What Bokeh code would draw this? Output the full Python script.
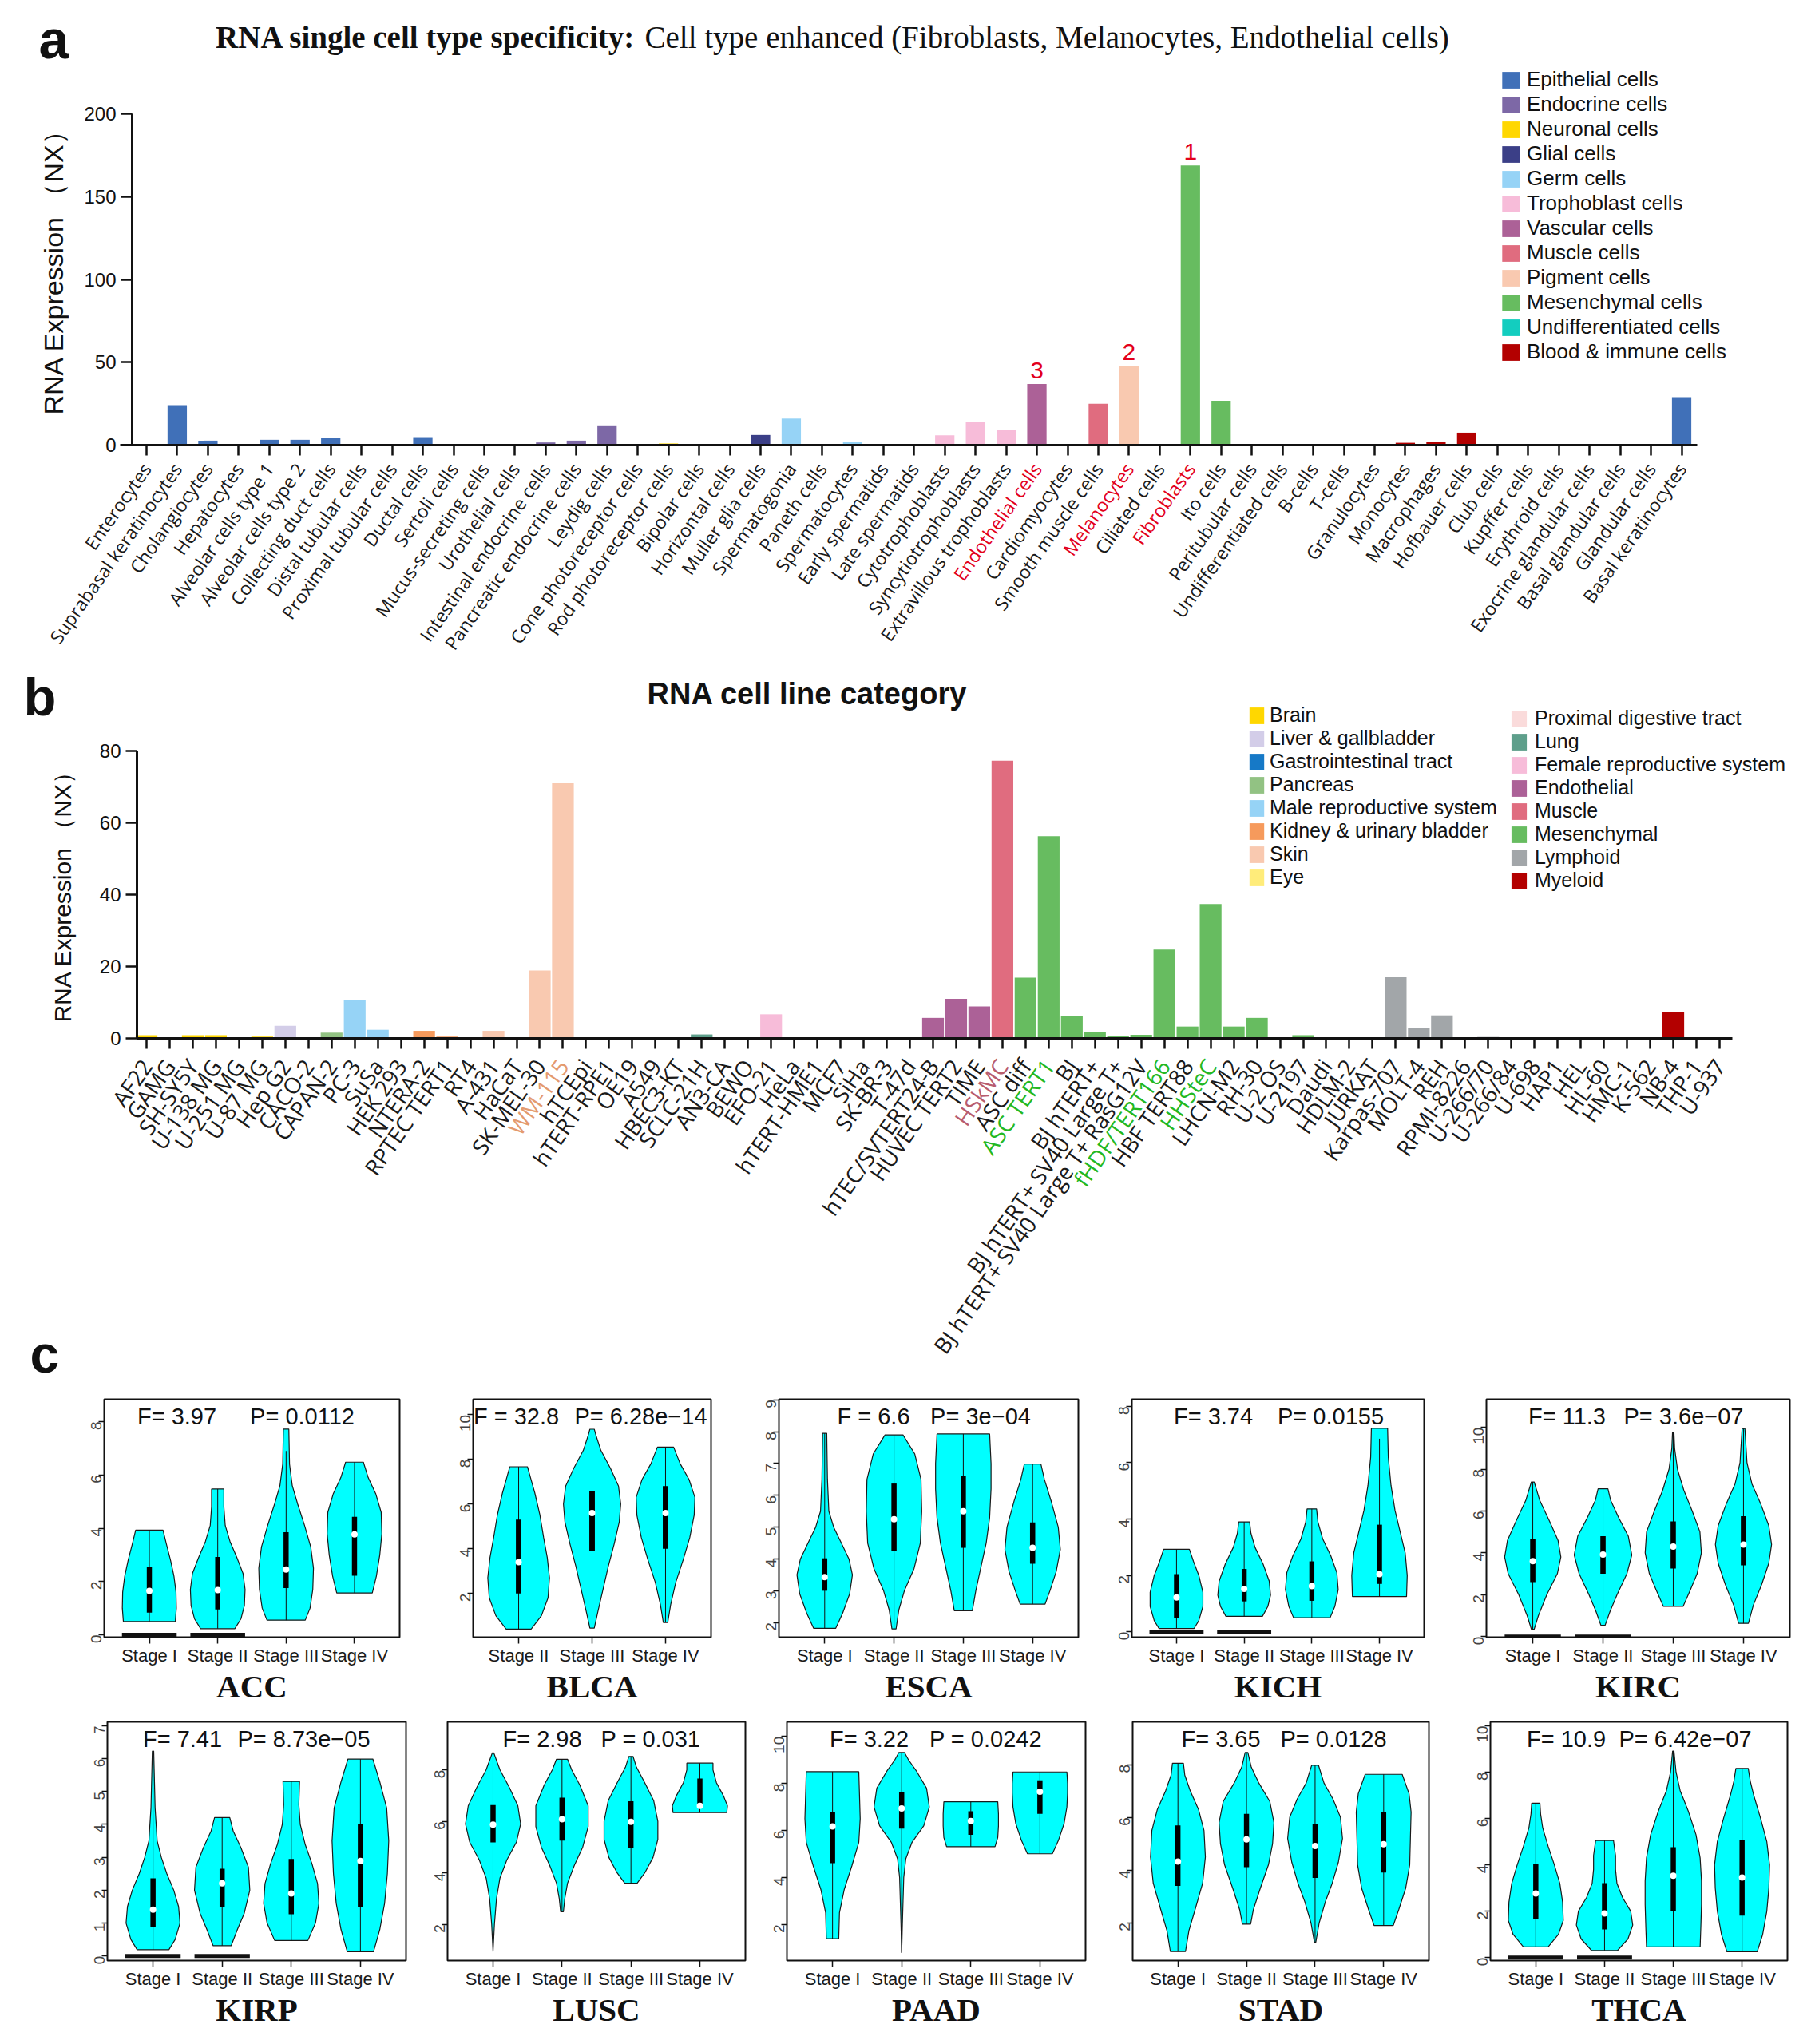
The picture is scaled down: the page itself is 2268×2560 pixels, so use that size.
import math
from bokeh.plotting import figure
from bokeh.models import (ColumnDataSource, Range1d, FixedTicker, LinearAxis,
                          Label, LabelSet, Legend, LegendItem)
from bokeh.layouts import column, row
from bokeh.core.properties import value
from bokeh.embed import file_html
from bokeh.resources import INLINE

# ---------------------------------------------------------------- panel a data
A_TITLE_BOLD = "RNA single cell type specificity:"
A_TITLE_REST = "Cell type enhanced (Fibroblasts, Melanocytes, Endothelial cells)"
A_YLABEL = "RNA Expression \uff08NX\uff09"
A_CELLS = [
    "Enterocytes", "Suprabasal keratinocytes", "Cholangiocytes", "Hepatocytes",
    "Alveolar cells type 1", "Alveolar cells type 2", "Collecting duct cells",
    "Distal tubular cells", "Proximal tubular cells", "Ductal cells", "Sertoli cells",
    "Mucus-secreting cells", "Urothelial cells", "Intestinal endocrine cells",
    "Pancreatic endocrine cells", "Leydig cells", "Cone photoreceptor cells",
    "Rod photoreceptor cells", "Bipolar cells", "Horizontal cells", "Muller glia cells",
    "Spermatogonia", "Paneth cells", "Spermatocytes", "Early spermatids",
    "Late spermatids", "Cytotrophoblasts", "Syncytiotrophoblasts",
    "Extravillous trophoblasts", "Endothelial cells", "Cardiomyocytes",
    "Smooth muscle cells", "Melanocytes", "Ciliated cells", "Fibroblasts", "Ito cells",
    "Peritubular cells", "Undifferentiated cells", "B-cells", "T-cells", "Granulocytes",
    "Monocytes", "Macrophages", "Hofbauer cells", "Club cells", "Kupffer cells",
    "Erythroid cells", "Exocrine glandular cells", "Basal glandular cells",
    "Glandular cells", "Basal keratinocytes",
]
A_VALUES = [0, 24.1, 2.7, 0, 3.2, 3.2, 4.1, 0, 0.3, 4.8, 0, 0, 0.5, 1.6, 2.7, 11.9,
            0, 1.0, 0.3, 0, 6.1, 16.0, 0, 2.0, 0, 0, 5.9, 13.9, 9.3, 36.9, 0.5, 25.0,
            47.6, 0, 168.8, 26.7, 0.3, 0, 0, 0, 0, 1.4, 2.1, 7.5, 0, 0.3, 0, 0.5, 0,
            0.5, 28.9]
A_GROUPS = (["Epithelial cells"] * 13 + ["Endocrine cells"] * 3 + ["Neuronal cells"] * 4 +
            ["Glial cells", "Germ cells", "Epithelial cells"] + ["Germ cells"] * 3 +
            ["Trophoblast cells"] * 3 + ["Vascular cells"] + ["Muscle cells"] * 2 +
            ["Pigment cells", "Epithelial cells"] + ["Mesenchymal cells"] * 3 +
            ["Undifferentiated cells"] + ["Blood & immune cells"] * 6 +
            ["Epithelial cells", "Blood & immune cells", "Blood & immune cells"] +
            ["Epithelial cells"] * 4)
A_GROUP_NAMES = ["Epithelial cells", "Endocrine cells", "Neuronal cells", "Glial cells",
                 "Germ cells", "Trophoblast cells", "Vascular cells", "Muscle cells",
                 "Pigment cells", "Mesenchymal cells", "Undifferentiated cells",
                 "Blood & immune cells"]
A_YTICKS = [0, 50, 100, 150, 200]
A_HIGHLIGHT = ["Endothelial cells", "Melanocytes", "Fibroblasts"]
A_PEAK_CELLS = ["Fibroblasts", "Melanocytes", "Endothelial cells"]
A_PEAK_TEXT = ["1", "2", "3"]

# ---------------------------------------------------------------- panel b data
B_TITLE = "RNA cell line category"
B_LINES = [
    "AF22", "GAMG", "SH-SY5Y", "U-138 MG", "U-251 MG", "U-87 MG", "Hep G2", "CACO-2",
    "CAPAN-2", "PC-3", "SuSa", "HEK 293", "NTERA-2", "RPTEC TERT1", "RT4", "A-431",
    "HaCaT", "SK-MEL-30", "WM-115", "hTCEpi", "hTERT-RPE1", "OE19", "A549", "HBEC3-KT",
    "SCLC-21H", "AN3-CA", "BEWO", "EFO-21", "HeLa", "hTERT-HME1", "MCF7", "SiHa",
    "SK-BR-3", "T-47d", "hTEC/SVTERT24-B", "HUVEC TERT2", "TIME", "HSkMC", "ASC diff",
    "ASC TERT1", "BJ", "BJ hTERT+", "BJ hTERT+ SV40 Large T+",
    "BJ hTERT+ SV40 Large T+ RasG12V", "fHDF/TERT166", "HBF TERT88", "HHSteC",
    "LHCN-M2", "RH-30", "U-2 OS", "U-2197", "Daudi", "HDLM-2", "JURKAT", "Karpas-707",
    "MOLT-4", "REH", "RPMI-8226", "U-266/70", "U-266/84", "U-698", "HAP1", "HEL",
    "HL-60", "HMC-1", "K-562", "NB-4", "THP-1", "U-937",
]
B_VALUES = [0.9, 0, 0.9, 0.9, 0, 0.5, 3.5, 0.3, 1.6, 10.6, 2.4, 0, 2.1, 0.5, 0, 2.1,
            0, 18.9, 71.0, 0, 0, 0, 0, 0, 1.1, 0, 0, 6.7, 0, 0, 0.2, 0, 0, 0, 5.7,
            11.0, 8.9, 77.3, 16.9, 56.3, 6.3, 1.7, 0.6, 1.0, 24.7, 3.3, 37.4, 3.3, 5.7,
            0, 0.9, 0, 0, 0.3, 17.0, 3.0, 6.4, 0, 0.4, 0, 0, 0, 0, 0, 0, 0, 7.4, 0, 0]
B_GROUPS = (["Brain"] * 6 + ["Liver & gallbladder", "Gastrointestinal tract", "Pancreas"] +
            ["Male reproductive system"] * 2 + ["Kidney & urinary bladder"] * 4 +
            ["Skin"] * 4 + ["Eye"] * 2 + ["Proximal digestive tract"] + ["Lung"] * 3 +
            ["Female reproductive system"] * 9 + ["Endothelial"] * 3 + ["Muscle"] +
            ["Mesenchymal"] * 13 + ["Lymphoid"] * 10 + ["Myeloid"] * 8)
B_LEGEND_LEFT = ["Brain", "Liver & gallbladder", "Gastrointestinal tract", "Pancreas",
                 "Male reproductive system", "Kidney & urinary bladder", "Skin", "Eye"]
B_LEGEND_RIGHT = ["Proximal digestive tract", "Lung", "Female reproductive system",
                  "Endothelial", "Muscle", "Mesenchymal", "Lymphoid", "Myeloid"]
B_YTICKS = [0, 20, 40, 60, 80]

# ---------------------------------------------------------------- panel c data
# each violin: outline knots (value, half-width), box (q1, median, q3), whisker (lo, hi)
STAGES4 = ["Stage I", "Stage II", "Stage III", "Stage IV"]
STAGES3 = ["Stage II", "Stage III", "Stage IV"]

ACC_STAT = ("F= 3.97", "P= 0.0112")
ACC_YLIM = (-0.09, 8.84)
ACC_YTICKS = [0, 2, 4, 6, 8]
ACC_KNOTS = [
    [(0.50, .38), (1.0, .395), (1.6, .39), (2.2, .36), (2.8, .31), (3.4, .25), (3.93, .20)],
    [(0.23, .25), (0.6, .34), (1.1, .39), (1.7, .40), (2.3, .37), (2.9, .28), (3.5, .18), (4.1, .11), (4.8, .09), (5.47, .09)],
    [(0.55, .28), (1.0, .35), (1.7, .39), (2.5, .40), (3.3, .36), (4.1, .27), (4.9, .17), (5.6, .09), (6.4, .05), (7.72, .04)],
    [(1.57, .26), (2.2, .32), (3.0, .37), (3.8, .40), (4.6, .39), (5.3, .31), (5.9, .20), (6.48, .13)],
]
ACC_BOX = [(0.83, 1.65, 2.55), (0.95, 1.68, 2.92), (1.75, 2.45, 3.85), (2.22, 3.77, 4.43)]
ACC_WHISKER = [(0.50, 3.93), (0.23, 5.47), (0.55, 6.90), (1.57, 6.48)]
ACC_ZERO = [True, True, False, False]

BLCA_STAT = ("F = 32.8", "P= 6.28e\u221214")
BLCA_YLIM = (0.04, 10.69)
BLCA_YTICKS = [2, 4, 6, 8, 10]
BLCA_KNOTS = [
    [(0.40, .17), (1.0, .31), (1.8, .40), (2.7, .42), (3.6, .39), (4.5, .34), (5.5, .29), (6.5, .22), (7.2, .16), (7.67, .12)],
    [(0.45, .03), (1.2, .08), (2.2, .15), (3.2, .22), (4.2, .30), (5.2, .37), (6.0, .39), (6.8, .36), (7.6, .25), (8.4, .12), (9.0, .06), (9.35, .03)],
    [(0.70, .03), (1.5, .07), (2.5, .14), (3.5, .24), (4.5, .33), (5.5, .39), (6.3, .40), (7.1, .32), (7.8, .20), (8.55, .11)],
]
BLCA_BOX = [(2.0, 3.4, 5.3), (3.9, 5.6, 6.6), (4.0, 5.6, 6.8)]
BLCA_WHISKER = [(0.40, 7.67), (0.45, 9.35), (0.70, 8.55)]
BLCA_ZERO = [False, False, False]

ESCA_STAT = ("F = 6.6", "P= 3e\u221204")
ESCA_YLIM = (1.54, 9.02)
ESCA_YTICKS = [2, 3, 4, 5, 6, 7, 8, 9]
ESCA_KNOTS = [
    [(1.82, .16), (2.3, .26), (2.9, .36), (3.5, .40), (4.0, .35), (4.5, .24), (5.0, .13), (5.5, .06), (6.5, .04), (7.95, .03)],
    [(1.80, .03), (2.4, .07), (3.0, .15), (3.7, .29), (4.5, .38), (5.5, .40), (6.5, .39), (7.3, .30), (7.9, .13)],
    [(2.37, .13), (3.0, .18), (3.7, .25), (4.5, .33), (5.3, .38), (6.2, .40), (7.0, .40), (7.93, .38)],
    [(2.58, .18), (3.0, .25), (3.6, .34), (4.3, .40), (5.0, .37), (5.8, .27), (6.5, .17), (6.98, .12)],
]
ESCA_BOX = [(3.0, 3.43, 4.02), (4.25, 5.25, 6.37), (4.35, 5.5, 6.6), (3.85, 4.35, 5.15)]
ESCA_WHISKER = [(1.82, 7.95), (1.80, 7.9), (2.37, 7.93), (2.58, 6.98)]
ESCA_ZERO = [False, False, False, False]

KICH_STAT = ("F= 3.74", "P= 0.0155")
KICH_YLIM = (-0.19, 8.25)
KICH_YTICKS = [0, 2, 4, 6, 8]
KICH_KNOTS = [
    [(0.12, .26), (0.4, .33), (0.9, .39), (1.4, .39), (2.0, .33), (2.5, .25), (2.93, .19)],
    [(0.55, .27), (0.9, .35), (1.3, .39), (1.8, .37), (2.4, .28), (3.0, .16), (3.5, .10), (3.9, .08)],
    [(0.50, .27), (0.9, .34), (1.5, .39), (2.1, .37), (2.7, .28), (3.3, .16), (3.9, .09), (4.36, .07)],
    [(1.25, .40), (2.0, .41), (2.8, .38), (3.5, .31), (4.3, .23), (5.2, .17), (6.2, .13), (7.22, .12)],
]
KICH_BOX = [(0.5, 1.22, 2.05), (1.08, 1.52, 2.23), (1.1, 1.62, 2.5), (1.7, 2.05, 3.8)]
KICH_WHISKER = [(0.12, 2.93), (0.55, 3.9), (0.50, 4.36), (1.25, 6.85)]
KICH_ZERO = [True, True, False, False]

KIRC_STAT = ("F= 11.3", "P= 3.6e\u221207")
KIRC_YLIM = (-0.03, 11.34)
KIRC_YTICKS = [0, 2, 4, 6, 8, 10]
KIRC_KNOTS = [
    [(0.35, .02), (1.0, .08), (2.0, .20), (3.0, .35), (3.8, .40), (4.6, .36), (5.5, .24), (6.5, .10), (7.39, .02)],
    [(0.54, .03), (1.2, .10), (2.0, .20), (3.0, .34), (3.9, .41), (4.8, .36), (5.7, .22), (6.5, .11), (7.06, .07)],
    [(1.44, .14), (2.2, .24), (3.0, .34), (4.0, .40), (5.0, .38), (6.0, .27), (7.0, .15), (8.0, .06), (9.0, .02), (9.77, .01)],
    [(0.63, .07), (1.5, .14), (2.5, .26), (3.5, .36), (4.4, .40), (5.3, .36), (6.3, .25), (7.3, .12), (8.3, .05), (9.94, .02)],
]
KIRC_BOX = [(2.6, 3.6, 4.65), (3.0, 3.92, 4.8), (3.25, 4.3, 5.5), (3.4, 4.4, 5.75)]
KIRC_WHISKER = [(0.35, 7.39), (0.54, 7.06), (1.44, 9.77), (0.63, 9.94)]
KIRC_ZERO = [True, True, False, False]

KIRP_STAT = ("F= 7.41", "P= 8.73e\u221205")
KIRP_YLIM = (-0.14, 7.12)
KIRP_YTICKS = [0, 1, 2, 3, 4, 5, 6, 7]
KIRP_KNOTS = [
    [(0.19, .23), (0.5, .32), (1.0, .39), (1.5, .37), (2.0, .30), (2.5, .20), (3.0, .12), (3.5, .06), (4.5, .03), (6.23, .01)],
    [(0.31, .13), (0.8, .22), (1.3, .32), (2.0, .40), (2.7, .38), (3.3, .27), (3.8, .16), (4.21, .11)],
    [(0.47, .24), (1.0, .35), (1.6, .40), (2.2, .38), (2.8, .30), (3.4, .20), (4.0, .13), (4.6, .11), (5.31, .12)],
    [(0.13, .19), (0.8, .28), (1.6, .35), (2.5, .39), (3.5, .41), (4.5, .38), (5.3, .28), (5.99, .18)],
]
KIRP_BOX = [(0.87, 1.41, 2.36), (1.5, 2.21, 2.65), (1.27, 1.9, 2.95), (1.5, 2.89, 4.0)]
KIRP_WHISKER = [(0.19, 6.23), (0.31, 4.21), (0.47, 5.31), (0.13, 5.99)]
KIRP_ZERO = [True, True, False, False]

LUSC_STAT = ("F= 2.98", "P = 0.031")
LUSC_YLIM = (0.60, 9.86)
LUSC_YTICKS = [2, 4, 6, 8]
LUSC_KNOTS = [
    [(0.95, .00), (2.0, .02), (3.0, .05), (3.8, .10), (4.5, .20), (5.2, .34), (5.9, .40), (6.6, .36), (7.3, .24), (8.0, .10), (8.66, .01)],
    [(2.49, .02), (3.0, .04), (3.6, .08), (4.3, .18), (5.0, .30), (5.8, .38), (6.6, .38), (7.4, .26), (8.0, .14), (8.41, .08)],
    [(3.60, .09), (4.0, .20), (4.6, .32), (5.3, .39), (6.0, .39), (6.8, .33), (7.5, .20), (8.1, .08), (8.52, .03)],
    [(6.34, .39), (6.6, .40), (7.0, .34), (7.5, .24), (8.0, .19), (8.26, .19)],
]
LUSC_BOX = [(5.18, 5.87, 6.63), (5.25, 6.08, 6.92), (4.97, 5.98, 6.78), (6.58, 6.6, 7.66)]
LUSC_WHISKER = [(0.95, 8.66), (2.49, 8.41), (3.60, 8.52), (6.34, 8.26)]
LUSC_ZERO = [False, False, False, False]

PAAD_STAT = ("F= 3.22", "P = 0.0242")
PAAD_YLIM = (0.47, 10.62)
PAAD_YTICKS = [2, 4, 6, 8, 10]
PAAD_KNOTS = [
    [(1.40, .09), (2.5, .10), (3.5, .17), (4.5, .28), (5.5, .38), (6.5, .40), (7.5, .39), (8.5, .38)],
    [(0.80, .00), (2.0, .01), (3.0, .02), (4.0, .03), (4.8, .06), (5.5, .15), (6.2, .32), (7.0, .40), (7.8, .36), (8.5, .22), (9.0, .10), (9.32, .04)],
    [(5.31, .35), (5.7, .39), (6.2, .40), (6.7, .40), (7.22, .39)],
    [(5.01, .18), (5.6, .27), (6.3, .35), (7.0, .39), (7.6, .40), (8.0, .40), (8.49, .39)],
]
PAAD_BOX = [(4.61, 6.17, 6.8), (6.08, 6.94, 7.65), (5.82, 6.4, 6.82), (6.71, 7.65, 8.13)]
PAAD_WHISKER = [(1.40, 8.5), (0.80, 9.32), (5.31, 7.22), (5.01, 8.49)]
PAAD_ZERO = [False, False, False, False]

STAD_STAT = ("F= 3.65", "P= 0.0128")
STAD_YLIM = (0.57, 9.62)
STAD_YTICKS = [2, 4, 6, 8]
STAD_KNOTS = [
    [(0.91, .11), (1.7, .16), (2.5, .25), (3.5, .36), (4.5, .40), (5.5, .38), (6.3, .30), (7.0, .18), (7.6, .10), (8.05, .08)],
    [(1.95, .06), (2.5, .10), (3.3, .20), (4.2, .32), (5.0, .38), (5.8, .40), (6.6, .34), (7.3, .18), (7.9, .07), (8.46, .02)],
    [(1.26, .01), (2.0, .06), (2.8, .15), (3.5, .25), (4.3, .34), (5.2, .40), (6.0, .37), (6.7, .26), (7.3, .13), (7.97, .05)],
    [(1.90, .14), (2.5, .22), (3.3, .32), (4.2, .38), (5.2, .39), (6.2, .40), (6.9, .37), (7.63, .27)],
]
STAD_BOX = [(3.4, 4.32, 5.69), (4.11, 5.16, 6.13), (3.7, 4.91, 5.76), (3.91, 4.98, 6.21)]
STAD_WHISKER = [(0.91, 8.05), (1.95, 8.46), (1.26, 7.97), (1.90, 7.63)]
STAD_ZERO = [False, False, False, False]

THCA_STAT = ("F= 10.9", "P= 6.42e\u221207")
THCA_YLIM = (-0.13, 10.17)
THCA_YTICKS = [0, 2, 4, 6, 8, 10]
THCA_KNOTS = [
    [(0.46, .18), (1.0, .33), (1.6, .40), (2.4, .39), (3.2, .35), (4.0, .27), (4.8, .18), (5.6, .10), (6.2, .07), (6.66, .06)],
    [(0.31, .19), (0.8, .34), (1.4, .41), (2.0, .38), (2.6, .26), (3.2, .18), (3.8, .16), (4.4, .16), (5.05, .13)],
    [(0.46, .39), (1.3, .40), (2.3, .41), (3.3, .41), (4.3, .39), (5.3, .33), (6.3, .22), (7.2, .10), (8.0, .04), (8.91, .01)],
    [(0.25, .22), (1.0, .30), (2.0, .36), (3.0, .39), (4.0, .40), (5.0, .36), (6.0, .27), (7.0, .17), (7.6, .12), (8.16, .09)],
]
THCA_BOX = [(1.66, 2.76, 4.03), (1.21, 1.9, 3.21), (2.0, 3.53, 4.76), (1.81, 3.45, 5.09)]
THCA_WHISKER = [(0.46, 6.66), (0.31, 5.05), (0.46, 8.91), (0.25, 8.16)]
THCA_ZERO = [True, True, False, False]

# ---------------------------------------------------------------- styles
SANS = "Liberation Sans"
SERIF = "Liberation Serif"
TICKFONT = "Open Sans"
RED = "#E3001B"
INK = "#111111"
A_COLORS = {
    "Epithelial cells": "#4070B8", "Endocrine cells": "#7D68A6", "Neuronal cells": "#FFD700",
    "Glial cells": "#3B3F87", "Germ cells": "#96D3F6", "Trophoblast cells": "#F7BCD9",
    "Vascular cells": "#AC6197", "Muscle cells": "#E06C7F", "Pigment cells": "#F9C9B0",
    "Mesenchymal cells": "#67BC60", "Undifferentiated cells": "#13CDBF",
    "Blood & immune cells": "#B30000",
}
B_COLORS = {
    "Brain": "#FFD700", "Liver & gallbladder": "#D3CDE8", "Gastrointestinal tract": "#1679C7",
    "Pancreas": "#92C283", "Male reproductive system": "#96D3F6",
    "Kidney & urinary bladder": "#F69A5C", "Skin": "#F9C9B0", "Eye": "#FFEC7A",
    "Proximal digestive tract": "#FADBDB", "Lung": "#5E9F8B",
    "Female reproductive system": "#F7BCD9", "Endothelial": "#AC6197", "Muscle": "#E06C7F",
    "Mesenchymal": "#67BC60", "Lymphoid": "#A2A6A9", "Myeloid": "#B30000",
}
B_LABEL_COLORS = {"WM-115": "#E49A6E", "HSkMC": "#B85C6E", "ASC TERT1": "#22B822",
                  "fHDF/TERT166": "#22B822", "HHSteC": "#22B822"}
ANGLE = 55 * math.pi / 180
PAGE_W = 2268
# half-height offsets (ascent - descent) / 2 used for 'middle' anchored text
MID_SANS = 0.3465
MID_SERIF = 0.3375


class Geo:
    """Maps page pixels to a bar panel's data space (the frame fills the figure)."""

    def __init__(self, top, height, x0, unit, y0, ypx):
        self.top, self.height, self.x0, self.unit, self.y0, self.ypx = top, height, x0, unit, y0, ypx

    def x(self, px):
        return (px - self.x0) / self.unit

    def y(self, py):
        return (self.y0 - py) / self.ypx

    def xr(self):
        return Range1d(self.x(0), self.x(PAGE_W))

    def yr(self):
        return Range1d(self.y(self.top + self.height), self.y(self.top))


def bar_figure(g):
    p = figure(width=PAGE_W, height=g.height, x_range=g.xr(), y_range=g.yr(),
               output_backend="svg", toolbar_location=None,
               x_axis_location=None, y_axis_location=None,
               min_border=0, min_border_left=0, min_border_right=0,
               min_border_top=0, min_border_bottom=0)
    p.outline_line_color = None
    p.grid.visible = False
    return p


def add_bar_axes(p, g, n, yticks, ymax, yaxis_px, xaxis_px):
    yax = LinearAxis(fixed_location=g.x(yaxis_px), bounds=(0, ymax),
                     ticker=FixedTicker(ticks=yticks))
    xax = LinearAxis(fixed_location=0, bounds=(g.x(xaxis_px[0]), g.x(xaxis_px[1])),
                     ticker=FixedTicker(ticks=list(range(n))),
                     major_label_overrides={i: "" for i in range(n)})
    for ax in (xax, yax):
        ax.axis_line_width = 3
        ax.axis_line_color = INK
        ax.major_tick_line_width = 2.5
        ax.major_tick_line_color = INK
        ax.major_tick_in = 0
        ax.minor_tick_line_color = None
    yax.major_tick_out = 14
    xax.major_tick_out = 13
    yax.major_label_text_font = SANS
    yax.major_label_text_font_size = "24px"
    yax.major_label_text_color = INK
    yax.major_label_standoff = 6
    p.add_layout(yax, "left")
    p.add_layout(xax, "below")


def text_label(p, g, px, baseline_py, text, font, size, bold=False, align="left"):
    mid = MID_SERIF if font == SERIF else MID_SANS
    p.add_layout(Label(x=g.x(px), y=g.y(baseline_py - mid * size), text=text, text_font=font,
                       text_font_size="%dpx" % size,
                       text_font_style="bold" if bold else "normal", text_align=align,
                       text_baseline="middle", text_color=INK))


def y_title(p, g, cx, cy, text, size):
    p.add_layout(Label(x=g.x(cx), y=g.y(cy), text=text, text_font=SANS,
                       text_font_size="%dpx" % size, angle=math.pi / 2,
                       text_align="center", text_baseline="middle", text_color=INK))


def build_panel_a():
    # page y 0..830; category 0 at page x 183 (38.45 px apart); y=0 at page y 557, 200 at 142
    g = Geo(top=0, height=830, x0=183, unit=38.45, y0=557, ypx=415 / 200)
    p = bar_figure(g)
    n = len(A_CELLS)
    add_bar_axes(p, g, n, A_YTICKS, 200, 165, (150, 2125))
    y_title(p, g, 66, 332, A_YLABEL, 34)
    items = []
    for grp in A_GROUP_NAMES:
        idx = [i for i, gg in enumerate(A_GROUPS) if gg == grp]
        src = ColumnDataSource(dict(x=idx, top=[A_VALUES[i] for i in idx]))
        r = p.vbar(x="x", top="top", width=0.63, source=src, fill_color=A_COLORS[grp],
                   line_color=None)
        items.append(LegendItem(label=grp, renderers=[r]))
    p.add_layout(Legend(items=items, location=(1878, 830 - 456), glyph_width=28, glyph_height=26,
                        label_height=26, label_standoff=6, spacing=0, padding=0, margin=0,
                        border_line_color=None, background_fill_alpha=0,
                        label_text_font=SANS, label_text_font_size="26px",
                        label_text_color=INK))
    pk_x = [A_CELLS.index(c) for c in A_PEAK_CELLS]
    pk_y = [A_VALUES[i] + (7 + MID_SANS * 30) / g.ypx for i in pk_x]
    p.text(x=pk_x, y=pk_y, text=A_PEAK_TEXT, text_color=RED, text_font=value(SANS),
           text_font_size="30px", text_align="center", text_baseline="middle")
    lab = ColumnDataSource(dict(x=list(range(n)), y=[-25 / g.ypx] * n, text=A_CELLS,
                                color=[RED if c in A_HIGHLIGHT else "#1a1a1a" for c in A_CELLS]))
    p.add_layout(LabelSet(x="x", y="y", text="text", source=lab, angle=ANGLE,
                          text_align="right", text_baseline="middle", text_color="color",
                          text_font=value(TICKFONT), text_font_size="23px"))
    text_label(p, g, 48, 72, "a", SANS, 68, bold=True)
    text_label(p, g, 796, 59, A_TITLE_BOLD, SERIF, 39, bold=True, align="right")
    text_label(p, g, 807, 59, A_TITLE_REST, SERIF, 39)
    return p


def build_panel_b():
    # page y 830..1735; category 0 at page x 183 (28.97 px apart); y=0 at page y 1300, 80 at 940
    g = Geo(top=830, height=905, x0=183, unit=28.97, y0=1300, ypx=360 / 80)
    p = bar_figure(g)
    n = len(B_LINES)
    add_bar_axes(p, g, n, B_YTICKS, 80, 171, (171, 2169))
    y_title(p, g, 78, 1115, A_YLABEL, 30)
    rend = {}
    for grp in B_COLORS:
        idx = [i for i, gg in enumerate(B_GROUPS) if gg == grp]
        src = ColumnDataSource(dict(x=idx, top=[B_VALUES[i] for i in idx]))
        rend[grp] = p.vbar(x="x", top="top", width=0.94, source=src, fill_color=B_COLORS[grp],
                           line_color=None)
    bottom = 830 + 905
    for names, loc, gw, so in ((B_LEGEND_LEFT, (1562, bottom - 1113), 23, 5),
                               (B_LEGEND_RIGHT, (1890, bottom - 1117), 24, 8)):
        p.add_layout(Legend(items=[LegendItem(label=nm, renderers=[rend[nm]]) for nm in names],
                            location=loc, glyph_width=gw, glyph_height=26, label_height=26,
                            label_standoff=so, spacing=0, padding=0, margin=0,
                            border_line_color=None, background_fill_alpha=0,
                            label_text_font=SANS, label_text_font_size="25px",
                            label_text_color=INK))
    lab = ColumnDataSource(dict(x=list(range(n)), y=[-29 / g.ypx] * n, text=B_LINES,
                                color=[B_LABEL_COLORS.get(c, "#1a1a1a") for c in B_LINES]))
    p.add_layout(LabelSet(x="x", y="y", text="text", source=lab, angle=ANGLE,
                          text_align="right", text_baseline="middle", text_color="color",
                          text_font=value(TICKFONT), text_font_size="28px"))
    text_label(p, g, 29, 895, "b", SANS, 67, bold=True)
    text_label(p, g, 810, 882, B_TITLE, SANS, 38, bold=True)
    text_label(p, g, 37, 1718, "c", SANS, 66, bold=True)
    return p


def build_violin(name, stages, knots, boxes, whiskers, zeros, stat, ylim, yticks,
                 w, h, bl, br, bt, bb, stat_dx):
    n = len(stages)
    xr = Range1d(0.5 - 0.04 * n, n + 0.5 + 0.04 * n)
    p = figure(width=w, height=h, x_range=xr, y_range=Range1d(*ylim),
               output_backend="svg", toolbar_location=None,
               min_border_left=bl, min_border_right=br, min_border_top=bt, min_border_bottom=bb)
    p.grid.visible = False
    p.outline_line_color = INK
    p.outline_line_width = 2
    p.xaxis.ticker = FixedTicker(ticks=list(range(1, n + 1)))
    p.xaxis.major_label_overrides = {i + 1: s for i, s in enumerate(stages)}
    p.yaxis.ticker = FixedTicker(ticks=yticks)
    for ax in (p.xaxis[0], p.yaxis[0]):
        ax.axis_line_color = None
        ax.minor_tick_line_color = None
        ax.major_tick_in = 0
        ax.major_tick_line_color = INK
        ax.major_tick_line_width = 1.5
    p.xaxis.major_tick_out = 8
    p.yaxis.major_tick_out = 7
    p.xaxis.major_label_text_font = SANS
    p.xaxis.major_label_text_font_size = "22px"
    p.xaxis.major_label_text_color = "#1a1a1a"
    p.xaxis.major_label_standoff = 2
    p.yaxis.major_label_orientation = math.pi / 2
    p.yaxis.major_label_text_font = SANS
    p.yaxis.major_label_text_font_size = "19px"
    p.yaxis.major_label_text_color = "#444444"
    p.yaxis.major_label_standoff = 3
    p.xaxis.axis_label = name
    p.xaxis.axis_label_text_font = SERIF
    p.xaxis.axis_label_text_font_size = "41px"
    p.xaxis.axis_label_text_font_style = "bold"
    p.xaxis.axis_label_text_color = INK
    p.xaxis.axis_label_standoff = 0
    for i in range(n):
        c = i + 1
        kn = knots[i]
        xs = [c + hw for _, hw in kn] + [c - hw for _, hw in reversed(kn)]
        ys = [y for y, _ in kn] + [y for y, _ in reversed(kn)]
        p.patch(xs, ys, fill_color="#00FFFF", line_color="#1a1a1a", line_width=1.2)
        lo, hi = whiskers[i]
        p.segment(x0=[c], y0=[lo], x1=[c], y1=[hi], line_color=INK, line_width=1)
        q1, med, q3 = boxes[i]
        p.vbar(x=[c], bottom=[q1], top=[q3], width=0.075, fill_color="#000000", line_color=None)
        p.scatter(x=[c], y=[med], size=8, marker="circle", fill_color="white", line_color=None)
        if zeros[i]:
            p.segment(x0=[c - 0.4], y0=[0], x1=[c + 0.4], y1=[0], line_color=INK, line_width=5)
    frame_w = w - bl - br
    frame_h = h - bt - bb
    ux = (xr.end - xr.start) / frame_w
    mid = (xr.start + xr.end) / 2
    ty = ylim[1] - (ylim[1] - ylim[0]) * 21.0 / frame_h
    p.text(x=[mid + stat_dx[0] * ux, mid + stat_dx[1] * ux], y=[ty, ty], text=list(stat),
           text_font=value(SANS), text_font_size="29px", text_align="center",
           text_baseline="middle", text_color=INK)
    return p


PANELS = {
    "ACC": (STAGES4, ACC_KNOTS, ACC_BOX, ACC_WHISKER, ACC_ZERO, ACC_STAT, ACC_YLIM, ACC_YTICKS),
    "BLCA": (STAGES3, BLCA_KNOTS, BLCA_BOX, BLCA_WHISKER, BLCA_ZERO, BLCA_STAT, BLCA_YLIM, BLCA_YTICKS),
    "ESCA": (STAGES4, ESCA_KNOTS, ESCA_BOX, ESCA_WHISKER, ESCA_ZERO, ESCA_STAT, ESCA_YLIM, ESCA_YTICKS),
    "KICH": (STAGES4, KICH_KNOTS, KICH_BOX, KICH_WHISKER, KICH_ZERO, KICH_STAT, KICH_YLIM, KICH_YTICKS),
    "KIRC": (STAGES4, KIRC_KNOTS, KIRC_BOX, KIRC_WHISKER, KIRC_ZERO, KIRC_STAT, KIRC_YLIM, KIRC_YTICKS),
    "KIRP": (STAGES4, KIRP_KNOTS, KIRP_BOX, KIRP_WHISKER, KIRP_ZERO, KIRP_STAT, KIRP_YLIM, KIRP_YTICKS),
    "LUSC": (STAGES4, LUSC_KNOTS, LUSC_BOX, LUSC_WHISKER, LUSC_ZERO, LUSC_STAT, LUSC_YLIM, LUSC_YTICKS),
    "PAAD": (STAGES4, PAAD_KNOTS, PAAD_BOX, PAAD_WHISKER, PAAD_ZERO, PAAD_STAT, PAAD_YLIM, PAAD_YTICKS),
    "STAD": (STAGES4, STAD_KNOTS, STAD_BOX, STAD_WHISKER, STAD_ZERO, STAD_STAT, STAD_YLIM, STAD_YTICKS),
    "THCA": (STAGES4, THCA_KNOTS, THCA_BOX, THCA_WHISKER, THCA_ZERO, THCA_STAT, THCA_YLIM, THCA_YTICKS),
}
# (name, figure width, left border, right border, stat text offsets from frame centre in px)
ROW1 = [("ACC", 545, 130, 45, (-94, 63)), ("BLCA", 380, 47, 35, (-95, 61)),
        ("ESCA", 445, 50, 20, (-69, 65)), ("KICH", 445, 47, 32, (-81, 66)),
        ("KIRC", 453, 46, 27, (-89, 57))]
ROW2 = [("KIRP", 513, 134, 5, (-93, 59)), ("LUSC", 427, 47, 7, (-68, 68)),
        ("PAAD", 430, 45, 11, (-84, 62)), ("STAD", 450, 48, 31, (-75, 66)),
        ("THCA", 448, 46, 30, (-91, 58))]

row1 = row(*[build_violin(nm, *PANELS[nm], w, 405, bl, br, 17, 90, dx) for nm, w, bl, br, dx in ROW1])
row2 = row(*[build_violin(nm, *PANELS[nm], w, 412, bl, br, 16, 97, dx) for nm, w, bl, br, dx in ROW2])

layout = column(build_panel_a(), build_panel_b(), row1, row2)
open("out.html", "w").write(file_html(layout, INLINE))
